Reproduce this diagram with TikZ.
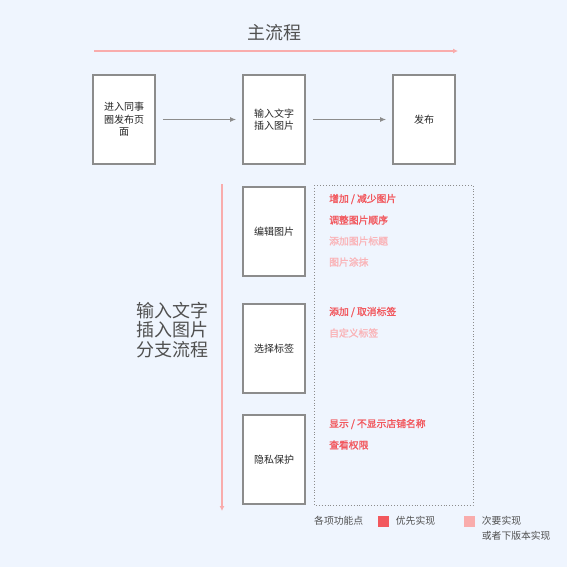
\documentclass[tikz,border=0pt]{standalone}
\usepackage{fontspec}
\setmainfont{Noto Sans CJK SC}
\newfontfamily\semibold[FakeBold=1.6]{Noto Sans CJK SC}
\usetikzlibrary{arrows.meta,positioning}
\definecolor{bgblue}{RGB}{239,245,254}
\definecolor{boxgray}{RGB}{140,140,140}
\definecolor{textgray}{RGB}{80,80,80}
\definecolor{flowpink}{RGB}{249,172,172}
\definecolor{mustred}{RGB}{242,88,94}
\definecolor{laterpink}{RGB}{250,180,184}
\tikzset{
  page/.style={draw=boxgray, line width=1.6pt, fill=white,
               minimum width=62pt, minimum height=89pt,
               inner sep=2pt, align=center, text width=46pt,
               font=\fontsize{10}{12.5}\selectfont, text=black!85},
  flow/.style={-{Latex[length=6pt,width=5pt]}, draw=black!45, line width=1.3pt},
  mainflow/.style={-{Latex[length=5pt,width=5pt]}, draw=flowpink, line width=1.8pt},
  heading/.style={font=\fontsize{18}{20}\selectfont, text=textgray},
  item/.style={anchor=west, inner sep=0pt, font=\semibold\fontsize{9.8}{11}\selectfont},
  legendtxt/.style={anchor=west, inner sep=0pt, font=\fontsize{9.8}{11}\selectfont, text=textgray},
  swatch/.style={minimum size=11pt, inner sep=0pt},
}
\begin{document}
\begin{tikzpicture}[x=1pt,y=-1pt]
  \fill[bgblue] (0,0) rectangle (567,567);
  \useasboundingbox (0,0) rectangle (567,567);

  % Main flow.
  \node[heading] (maintitle) at (274,33) {主流程};
  \coordinate (mainL) at (94,51);
  \coordinate (mainR) at (458,51);
  \draw[mainflow] (mainL) -- (mainR);

  \node[page] (entry)   at (124,119.5) {进入同事\\圈发布页\\面};
  \node[page] (input)   at (274,119.5) {输入文字\\插入图片};
  \node[page] (publish) at (424,119.5) {发布};
  \draw[flow, shorten <=7pt, shorten >=6pt] (entry) -- (input);
  \draw[flow, shorten <=7pt, shorten >=6pt] (input) -- (publish);

  % Branch flow.
  \node[heading, align=center, font=\fontsize{18}{19.5}\selectfont] (branchtitle) at (172,330)
    {输入文字\\插入图片\\分支流程};
  \coordinate (branchT) at (222,184);
  \coordinate (branchB) at (222,511);
  \draw[mainflow] (branchT) -- (branchB);

  \node[page] (editimg) at (274,231.5) {编辑图片};
  \node[page] (picktag) at (274,348.5) {选择标签};
  \node[page] (privacy) at (274,459.5) {隐私保护};

  \draw[boxgray, line width=0.9pt, dotted] (314,185) rectangle (473,505);

  \foreach \yy/\col/\txt in {
    199/mustred/{增加 / 减少图片},
    220/mustred/{调整图片顺序},
    241/laterpink/{添加图片标题},
    262/laterpink/{图片涂抹},
    312/mustred/{添加 / 取消标签},
    333/laterpink/{自定义标签},
    424/mustred/{显示 / 不显示店铺名称},
    445/mustred/{查看权限}
  }{
    \node[item, text=\col] at (329,\yy) {\txt};
  }

  % Legend.
  \node[legendtxt] (legend) at (314,521) {各项功能点};
  \node[swatch, fill=mustred] (mustbox) at (383,521) {};
  \node[legendtxt, right=7pt of mustbox] (musttxt) {优先实现};
  \node[swatch, fill=flowpink] (laterbox) at (469,521) {};
  \node[legendtxt, right=7pt of laterbox] (latertxt) {次要实现};
  \node[legendtxt, below=5pt of latertxt.south west, anchor=north west] (latertxt2) {或者下版本实现};
\end{tikzpicture}
\end{document}
